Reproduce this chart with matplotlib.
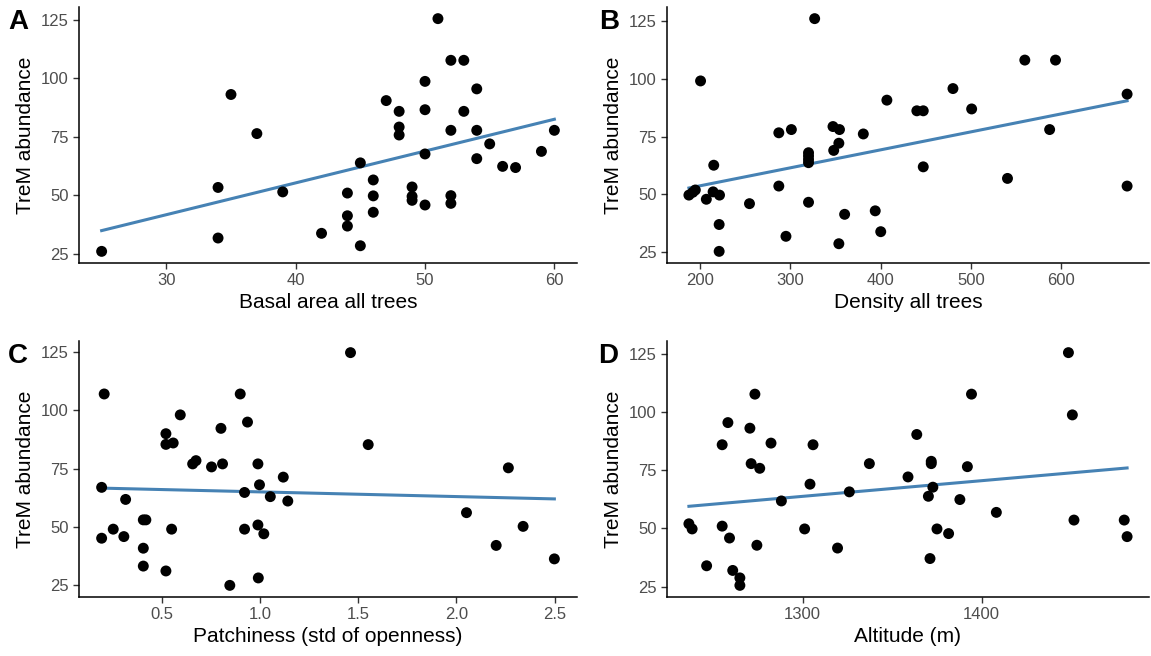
import numpy as np
import matplotlib
matplotlib.use("Agg")
import matplotlib.pyplot as plt

plt.rcParams['font.family'] = ['Liberation Sans', 'DejaVu Sans']

# panel A: basal area all trees
basal = [25, 34, 34, 35, 37, 39, 42, 44, 44, 44, 45, 45, 46, 46, 46, 47, 48, 48, 48,
         49, 49, 49, 50, 50, 50, 50, 51, 52, 52, 52, 52, 53, 53, 54, 54, 54, 55, 56, 57, 59, 60]
trem_a = [26, 53.3, 31.7, 93, 76.3, 51.4, 33.7, 50.9, 41.2, 36.8, 63.8, 28.4, 56.5, 49.7, 42.7,
          90.4, 85.8, 79.1, 75.7, 53.5, 49.5, 47.8, 98.6, 86.5, 67.6, 45.8, 125.4, 107.6, 77.7,
          49.8, 46.5, 107.6, 85.8, 95.4, 77.7, 65.6, 71.9, 62.3, 61.8, 68.7, 77.7]

# panel B: density all trees
density = [187.5, 191.8, 194.6, 200.4, 206.8, 215, 214.3, 221.4, 221, 221, 254.6, 287.1, 287.1,
           295, 301, 320, 320, 320, 320, 320, 326.8, 347.1, 347.9, 354.3, 353.6, 360, 353.6,
           380.7, 393.9, 400, 406.8, 440, 447.1, 447.1, 480, 500.7, 540.4, 559.6, 593.6, 587.1,
           672.9, 672.9]
trem_b = [49.7, 50.9, 51.9, 99, 47.9, 62.6, 51.1, 49.7, 37, 25.4, 46, 76.6, 53.6, 31.9, 78,
          68, 66.6, 65.1, 63.7, 46.6, 125.9, 79.3, 69, 78, 72.1, 41.4, 28.7, 76.1, 42.9, 33.9,
          90.7, 86.1, 86.1, 61.9, 95.7, 86.9, 56.9, 108, 108, 78, 93.3, 53.6]

# panel C: patchiness
patch = [0.208, 0.195, 0.195, 0.317, 0.254, 0.308, 0.407, 0.42, 0.407, 0.407, 0.522, 0.522,
         0.522, 0.559, 0.551, 0.595, 0.658, 0.675, 0.754, 0.802, 0.81, 0.847, 0.9, 0.937,
         0.922, 0.922, 0.99, 0.998, 0.99, 1.02, 0.992, 1.053, 1.119, 1.142, 1.461, 1.551,
         2.051, 2.264, 2.202, 2.339, 2.498]
trem_c = [107.1, 66.9, 45, 61.7, 48.9, 45.7, 52.9, 52.9, 40.7, 33, 30.9, 90, 85.4, 86, 48.9,
          98.1, 77, 78.4, 75.7, 92.3, 77, 24.7, 107.1, 95, 64.7, 48.9, 77, 68, 50.7, 46.9,
          27.9, 62.9, 71.3, 61, 124.9, 85.3, 56, 75.3, 41.9, 50.1, 36.1]

# panel D: altitude
altitude = [1236.4, 1238.2, 1246.3, 1255, 1255, 1258.2, 1259.1, 1260.9, 1264.9, 1264.9, 1270.5,
            1271.2, 1273.3, 1274.4, 1276, 1282.3, 1288.1, 1301.1, 1304.1, 1305.8, 1319.5,
            1326.1, 1337.3, 1358.9, 1363.8, 1370.3, 1371.2, 1371.9, 1371.9, 1372.8, 1375.1,
            1381.6, 1387.9, 1392.1, 1394.4, 1408.3, 1448.6, 1450.8, 1451.7, 1479.8, 1481.4]
trem_d = [52, 49.8, 34, 85.9, 51, 95.4, 45.9, 32, 28.8, 25.6, 93, 77.8, 107.6, 42.8, 75.8,
          86.6, 61.8, 49.8, 69, 85.9, 41.6, 65.7, 77.8, 72.1, 90.3, 63.8, 37.1, 78.8, 77.8,
          67.7, 49.8, 47.8, 62.4, 76.5, 107.6, 56.9, 125.4, 98.7, 53.6, 53.6, 46.5]

panels = [
    ("A", basal, trem_a, "Basal area all trees", [30, 40, 50, 60], ["30", "40", "50", "60"]),
    ("B", density, trem_b, "Density all trees", [200, 300, 400, 500, 600], ["200", "300", "400", "500", "600"]),
    ("C", patch, trem_c, "Patchiness (std of openness)", [0.5, 1.0, 1.5, 2.0, 2.5], ["0.5", "1.0", "1.5", "2.0", "2.5"]),
    ("D", altitude, trem_d, "Altitude (m)", [1300, 1400], ["1300", "1400"]),
]
yticks = [25, 50, 75, 100, 125]

W, H = 1151, 656
fig = plt.figure(figsize=(W / 100, H / 100), dpi=100)

# axes boxes in pixels: left, top, right, bottom
boxes = [(79, 7, 577, 263), (667, 7, 1149, 263), (79, 341, 577, 597), (667, 341, 1149, 597)]
label_x = [8, 599, 8, 598]

for (lab, x, y, xlab, xt, xtl), (l, t, r, b), lx in zip(panels, boxes, label_x):
    ax = fig.add_axes([l / W, 1 - b / H, (r - l) / W, (b - t) / H])
    x = np.array(x)
    y = np.array(y)
    ax.scatter(x, y, s=62, color="black", edgecolors="none", zorder=3)
    k, c = np.polyfit(x, y, 1)
    xs = np.array([x.min(), x.max()])
    ax.plot(xs, k * xs + c, color="#4682B4", lw=2.2, zorder=2)
    ax.set_xticks(xt)
    ax.set_xticklabels(xtl)
    ax.set_yticks(yticks)
    ax.margins(0.05)
    for s in ["top", "right"]:
        ax.spines[s].set_visible(False)
    for s in ["left", "bottom"]:
        ax.spines[s].set_linewidth(1.1)
        ax.spines[s].set_color("black")
    ax.tick_params(axis="both", length=4.5, width=1.0, color="#333333",
                   labelsize=12, labelcolor="#4D4D4D", pad=3)
    ax.set_xlabel(xlab, fontsize=15, color="black", labelpad=3)
    ax.set_ylabel("TreM abundance", fontsize=15, color="black", labelpad=4)
    fig.text(lx / W, 1 - (t + 2) / H, lab, fontsize=20, fontweight="bold", va="top", ha="left")

fig.savefig("out.png", dpi=100)
